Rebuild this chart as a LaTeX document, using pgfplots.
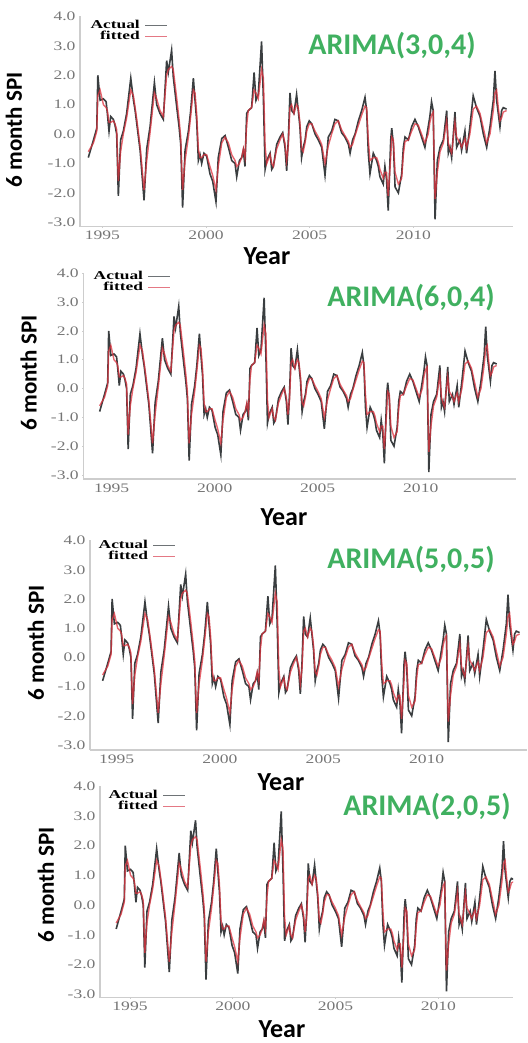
\documentclass[border=0pt]{standalone}
\usepackage{pgfplots}
\pgfplotsset{compat=1.18}
\usepackage{pgfplotstable}
\usepackage{fontspec}
\setmainfont{Liberation Serif}
\newfontfamily\calib{Carlito}
\newfontfamily\tickfont[FakeStretch=1.35]{Liberation Serif}
\newfontfamily\legfont[FakeStretch=1.45]{Liberation Serif}
\definecolor{actc}{RGB}{58,62,64}
\definecolor{actl}{RGB}{110,115,118}
\definecolor{fitc}{RGB}{222,50,62}
\definecolor{fitl}{RGB}{228,120,132}
\definecolor{ttl}{RGB}{64,176,96}
\definecolor{axc}{RGB}{205,205,205}
\definecolor{tkc}{RGB}{118,118,118}

\pgfplotstableread{
year act fit
1994.32 -0.80 -0.60
1994.57 -0.20 -0.30
1994.73 0.20 0.10
1994.78 2.00 1.30
1994.89 1.15 1.50
1995.05 1.20 1.00
1995.18 1.10 0.90
1995.24 0.70 0.80
1995.32 0.10 0.40
1995.40 0.60 0.40
1995.53 0.50 0.45
1995.61 0.30 0.35
1995.69 0.00 0.15
1995.77 -2.10 -1.60
1995.88 -0.20 -0.60
1996.01 0.10 0.00
1996.17 0.70 0.55
1996.37 1.90 1.50
1996.50 1.15 1.30
1996.58 0.80 0.90
1996.66 0.35 0.50
1996.82 -0.55 -0.40
1997.01 -2.25 -1.90
1997.14 -0.50 -0.90
1997.30 0.25 0.05
1997.51 1.75 1.40
1997.62 1.00 1.20
1997.78 0.70 0.80
1997.94 0.50 0.60
1998.10 2.50 2.00
1998.18 2.10 2.20
1998.34 2.85 2.30
1998.42 1.95 2.20
1998.59 0.90 1.20
1998.70 0.25 0.50
1998.78 -0.35 -0.10
1998.87 -2.50 -1.90
1998.99 -0.55 -0.90
1999.15 0.10 -0.10
1999.26 0.80 0.60
1999.39 1.90 1.50
1999.47 1.15 1.40
1999.55 0.45 0.70
1999.63 -0.90 -0.50
1999.71 -0.70 -0.80
1999.79 -1.00 -0.80
1999.90 -0.65 -0.70
2000.03 -0.75 -0.70
2000.19 -1.35 -1.10
2000.32 -1.60 -1.40
2000.48 -2.30 -1.90
2000.59 -0.80 -1.10
2000.76 -0.15 -0.30
2000.92 -0.05 -0.10
2001.08 -0.45 -0.30
2001.24 -0.90 -0.70
2001.40 -1.00 -0.90
2001.48 -1.45 -1.10
2001.61 -0.90 -1.00
2001.72 -0.80 -0.80
2001.80 -0.55 -0.50
2001.88 -1.10 -0.80
2001.96 0.70 0.30
2002.04 0.80 0.80
2002.20 0.90 0.90
2002.32 2.10 1.50
2002.41 1.15 1.40
2002.52 1.35 1.20
2002.68 3.15 2.20
2002.77 1.15 1.90
2002.85 -1.20 -0.40
2002.93 -0.90 -1.00
2003.09 -0.65 -0.70
2003.17 -1.20 -1.00
2003.25 -1.10 -1.10
2003.41 -0.35 -0.50
2003.57 -0.10 -0.20
2003.70 0.05 0.00
2003.81 -0.45 -0.30
2003.89 -1.25 -0.90
2003.97 -0.20 -0.40
2004.05 1.40 0.90
2004.13 0.80 1.00
2004.24 0.70 0.70
2004.37 1.35 1.00
2004.45 0.80 0.90
2004.53 0.25 0.40
2004.61 -0.80 -0.50
2004.69 -0.45 -0.60
2004.78 -0.20 -0.30
2004.86 0.25 0.10
2004.98 0.45 0.35
2005.10 0.35 0.35
2005.26 0.00 0.10
2005.42 -0.20 -0.10
2005.58 -0.45 -0.35
2005.74 -1.40 -1.00
2005.90 -0.10 -0.40
2006.06 0.10 0.00
2006.22 0.50 0.35
2006.38 0.45 0.45
2006.54 0.05 0.15
2006.70 -0.10 -0.05
2006.87 -0.35 -0.25
2006.95 -0.65 -0.45
2007.07 -0.20 -0.35
2007.19 0.00 -0.05
2007.35 0.45 0.30
2007.51 0.80 0.65
2007.67 1.25 0.95
2007.75 0.80 0.90
2007.83 -0.65 -0.20
2007.91 -1.35 -0.90
2008.07 -0.65 -0.80
2008.23 -0.90 -0.80
2008.31 -1.10 -0.95
2008.39 -1.45 -1.20
2008.55 -1.70 -1.50
2008.63 -1.10 -1.30
2008.71 -1.55 -1.30
2008.79 -2.60 -2.10
2008.91 -0.20 -0.80
2008.96 0.20 -0.10
2009.04 -0.35 -0.20
2009.12 -1.80 -1.30
2009.28 -2.00 -1.70
2009.44 -1.35 -1.50
2009.52 -0.45 -0.70
2009.60 -0.10 -0.25
2009.76 -0.20 -0.20
2009.92 0.25 0.10
2010.08 0.50 0.35
2010.24 0.25 0.30
2010.40 -0.10 0.00
2010.56 -0.45 -0.30
2010.72 0.25 0.00
2010.80 0.60 0.40
2010.88 1.10 0.65
2010.96 0.80 0.75
2011.05 -2.90 -2.20
2011.16 -0.90 -1.30
2011.29 -0.45 -0.60
2011.45 -0.20 -0.30
2011.61 0.80 0.45
2011.69 -0.65 -0.30
2011.77 -0.45 -0.50
2011.85 -0.80 -0.65
2012.01 0.75 0.40
2012.09 -0.45 -0.10
2012.25 -0.20 -0.30
2012.33 -0.55 -0.45
2012.49 0.10 -0.15
2012.57 -0.65 -0.45
2012.73 0.25 0.00
2012.89 1.30 0.85
2013.05 0.90 0.95
2013.22 0.60 0.70
2013.38 0.00 0.20
2013.54 -0.45 -0.30
2013.70 0.25 0.00
2013.86 1.15 0.80
2013.94 2.15 1.40
2014.02 1.15 1.50
2014.10 0.70 0.90
2014.18 0.25 0.45
2014.26 0.80 0.55
2014.34 0.90 0.75
2014.50 0.85 0.80
}\spi

\pgfplotsset{spistyle/.style={
  scale only axis,
  axis x line=bottom, axis y line=left,
  axis line style={-, draw=axc, line width=1.3pt},
  ymax=4,
  ytick={-3,-2,-1,0,1,2,3,4},
  yticklabels={-3.0,-2.0,-1.0,0.0,1.0,2.0,3.0,4.0},
  xticklabels={1995,2000,2005,2010},
  tick style={draw=axc, line width=0.8pt},
  major tick length=2pt,
  tick label style={font=\tickfont\fontsize{13}{13}\selectfont, text=tkc},
  legend cell align=right,
  legend plot pos=right,
  legend style={draw=none, fill=none, font=\legfont\bfseries\fontsize{12}{12}\selectfont, anchor=north east, row sep=-3pt, inner sep=0pt,
    /tikz/every odd column/.append style={column sep=3pt}},
  legend image code/.code={\draw[#1] (0pt,0pt) -- (22pt,0pt);},
},
spilegend/.code={%
  \addlegendimage{actl, line width=0.9pt}\addlegendentry{Actual}
  \addlegendimage{fitl, line width=0.9pt}\addlegendentry{fitted}
}}

\begin{document}
\begin{tikzpicture}
\path[use as bounding box] (0pt,0pt) rectangle (527pt,-1043pt);

% Panel 1
\begin{axis}[spistyle, at={(80pt,-226.7pt)}, anchor=south west,
  width=433pt, height=210.2pt, xmin=1993.92, xmax=2014.81, ymin=-3.15,
  xtick={1995,2000,2005,2010},
  legend style={at={(axis description cs:0.203,0.992)}}]
\addlegendimage{actl, line width=0.9pt}\addlegendentry{Actual}
\addlegendimage{fitl, line width=0.9pt}\addlegendentry{fitted}
\addplot[actc, line width=1.6pt, forget plot] table[x=year,y=act]{\spi};
\addplot[fitc, line width=1.4pt, opacity=0.75, forget plot] table[x=year,y=fit]{\spi};
\end{axis}

% Panel 2
\begin{axis}[spistyle, at={(83.3pt,-479pt)}, anchor=south west,
  width=432.7pt, height=205.7pt, xmin=1993.49, xmax=2015.48, ymin=-3.14,
  xtick={1994.93,2000.17,2005.40,2010.64},
  legend style={at={(axis description cs:0.203,1.02)}}]
\addlegendimage{actl, line width=0.9pt}\addlegendentry{Actual}
\addlegendimage{fitl, line width=0.9pt}\addlegendentry{fitted}
\addplot[actc, line width=1.6pt, forget plot] table[x=year,y=act]{\spi};
\addplot[fitc, line width=1.4pt, opacity=0.75, forget plot] table[x=year,y=fit]{\spi};
\end{axis}

% Panel 3
\begin{axis}[spistyle, at={(90pt,-750pt)}, anchor=south west,
  width=437pt, height=209.4pt, xmin=1993.71, xmax=2014.86, ymin=-3.17,
  xtick={1995,2000,2005,2010},
  legend style={at={(axis description cs:0.197,1.012)}}]
\addlegendimage{actl, line width=0.9pt}\addlegendentry{Actual}
\addlegendimage{fitl, line width=0.9pt}\addlegendentry{fitted}
\addplot[actc, line width=1.6pt, forget plot] table[x=year,y=act]{\spi};
\addplot[fitc, line width=1.4pt, opacity=0.75, forget plot] table[x=year,y=fit]{\spi};
\end{axis}

% Panel 4
\begin{axis}[spistyle, at={(100pt,-997.7pt)}, anchor=south west,
  width=413pt, height=211.6pt, xmin=1993.50, xmax=2014.42, ymin=-3.11,
  xtick={1995.02,2000.23,2005.43,2010.64},
  legend style={at={(axis description cs:0.208,0.99)}}]
\addlegendimage{actl, line width=0.9pt}\addlegendentry{Actual}
\addlegendimage{fitl, line width=0.9pt}\addlegendentry{fitted}
\addplot[actc, line width=1.6pt, forget plot] table[x=year,y=act]{\spi};
\addplot[fitc, line width=1.4pt, opacity=0.75, forget plot] table[x=year,y=fit]{\spi};
\end{axis}

% Titles
\begin{scope}[every node/.style={font=\calib\bfseries\fontsize{30}{30}\selectfont, text=ttl}]
\node at (392pt,-46pt) {ARIMA(3,0,4)};
\node at (411pt,-298pt) {ARIMA(6,0,4)};
\node at (411pt,-560pt) {ARIMA(5,0,5)};
\node at (427pt,-807pt) {ARIMA(2,0,5)};
\end{scope}
% x labels
\begin{scope}[every node/.style={font=\calib\bfseries\fontsize{26}{26}\selectfont}]
\node at (267pt,-256pt) {Year};
\node at (284pt,-517pt) {Year};
\node at (281pt,-782pt) {Year};
\node at (282pt,-1029pt) {Year};
\end{scope}
% y labels
\begin{scope}[every node/.style={font=\calib\bfseries\fontsize{23}{23}\selectfont, rotate=90}]
\node at (14pt,-130pt) {6 month SPI};
\node at (28.7pt,-373pt) {6 month SPI};
\node at (35.8pt,-643pt) {6 month SPI};
\node at (45.8pt,-885pt) {6 month SPI};
\end{scope}
\end{tikzpicture}
\end{document}
